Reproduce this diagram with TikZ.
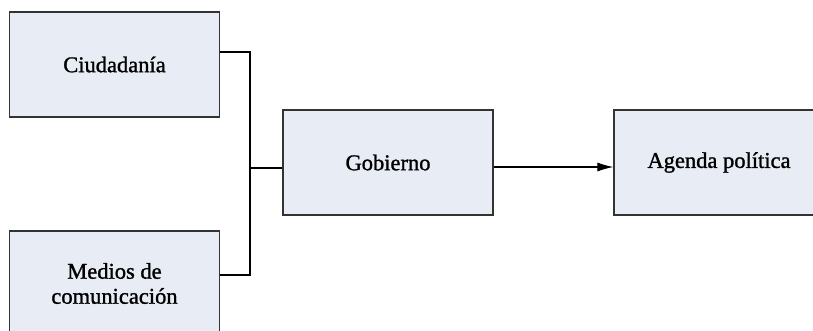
\documentclass[tikz,border=0pt]{standalone}
\usepackage{fontspec}
\setmainfont{Liberation Serif}
\newfontfamily\boxfont{Liberation Serif}[FakeBold=1.2]
\usetikzlibrary{arrows.meta, positioning}
\definecolor{boxfill}{HTML}{E8ECF4}
\definecolor{boxline}{HTML}{333333}

\begin{document}
\begin{tikzpicture}[x=1pt,y=1pt,node distance=3cm,on grid,auto]
    \tikzstyle{block}=[shape=rectangle,draw=boxline,fill=boxfill,line width=1.2pt,
      minimum width=210pt,minimum height=105pt,align=center,
      font=\boxfont\fontsize{22.5}{25}\selectfont]
    \tikzstyle{link}=[draw=black,line width=1.1pt]

    \useasboundingbox (0,0) rectangle (813,-330);
    \clip (0,0) rectangle (813,-330);

    \node[block] (ciud) at (114.5,-64.5) {Ciudadanía};
    \node[block, below=219pt of ciud] (medios) {Medios de\\comunicación};
    \node[block, below right=98pt and 273.5pt of ciud] (gob) {Gobierno};
    \node[block, right=331pt of gob] (agenda) {Agenda política};

    \coordinate (join) at (250,-168);

    \path[link]
    ([yshift=12.5pt]ciud.east) -| (join)
    ([yshift=8.5pt]medios.east) -| (join)
    (join) -- (gob.west |- join)
    ;
    \draw[link,-{Latex[length=16pt,width=9pt]}]
    ([yshift=-4.5pt]gob.east) -- ([yshift=-4.5pt]agenda.west);

  \end{tikzpicture}
\end{document}
